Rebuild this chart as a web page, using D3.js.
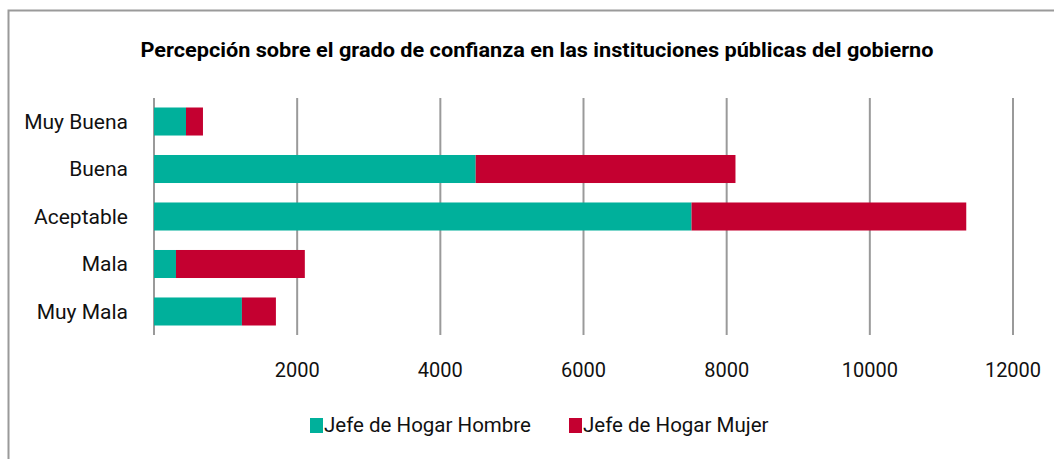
<!DOCTYPE html>
<html>
<head>
<meta charset="utf-8">
<script src="https://cdn.jsdelivr.net/npm/d3@7"></script>
<style>
  body { margin: 0; background: #fff; }
  text { font-family: "Roboto", "Liberation Sans Narrow", sans-serif; }
</style>
</head>
<body>
<div id="chart"></div>
<script>
// Data
var categories = ["Muy Buena", "Buena", "Aceptable", "Mala", "Muy Mala"];
var hombre = [447, 4494, 7509, 307, 1228];
var mujer = [237, 3629, 3838, 1800, 475];
var seriesNames = ["Jefe de Hogar Hombre", "Jefe de Hogar Mujer"];
var tickValues = [2000, 4000, 6000, 8000, 10000, 12000];

var colors = ["#00B09B", "#C40030"];

var width = 1054, height = 459;

var svg = d3.select("#chart")
  .append("svg")
  .attr("width", width)
  .attr("height", height);

// Outer frame
svg.append("rect")
  .attr("x", 8.5)
  .attr("y", 10.5)
  .attr("width", width)
  .attr("height", height)
  .attr("fill", "none")
  .attr("stroke", "#9a9a9a")
  .attr("stroke-width", 2);

// Title
svg.append("text")
  .attr("x", 537)
  .attr("y", 57)
  .attr("text-anchor", "middle")
  .attr("font-size", "21px")
  .attr("font-weight", "bold")
  .attr("textLength", 793)
  .attr("lengthAdjust", "spacingAndGlyphs")
  .text("Percepción sobre el grado de confianza en las instituciones públicas del gobierno");

var x = d3.scaleLinear()
  .domain([0, 12000])
  .range([154, 1013]);

var y = d3.scaleBand()
  .domain(categories)
  .range([98, 335])
  .paddingInner(0.41)
  .paddingOuter(0.2);

// Gridlines
svg.append("g")
  .selectAll("line")
  .data([0].concat(tickValues))
  .enter()
  .append("line")
  .attr("x1", function (d) { return x(d); })
  .attr("x2", function (d) { return x(d); })
  .attr("y1", 98)
  .attr("y2", 335)
  .attr("stroke", "#9a9a9a")
  .attr("stroke-width", 2);

// Stack data
var rows = categories.map(function (c, i) {
  return { cat: c, h: hombre[i], m: mujer[i] };
});
var stack = d3.stack().keys(["h", "m"]);
var layers = stack(rows);

svg.append("g")
  .selectAll("g")
  .data(layers)
  .enter()
  .append("g")
  .attr("fill", function (d, i) { return colors[i]; })
  .selectAll("rect")
  .data(function (d) { return d; })
  .enter()
  .append("rect")
  .attr("x", function (d) { return x(d[0]); })
  .attr("width", function (d) { return x(d[1]) - x(d[0]); })
  .attr("y", function (d) { return y(d.data.cat); })
  .attr("height", y.bandwidth());

// Category labels
svg.append("g")
  .selectAll("text")
  .data(categories)
  .enter()
  .append("text")
  .attr("x", 128)
  .attr("y", function (d) { return y(d) + y.bandwidth() / 2; })
  .attr("dy", "0.35em")
  .attr("text-anchor", "end")
  .attr("font-size", "21px")
  .attr("fill", "#111")
  .text(function (d) { return d; });

// X axis tick labels
svg.append("g")
  .selectAll("text")
  .data(tickValues)
  .enter()
  .append("text")
  .attr("x", function (d) { return x(d); })
  .attr("y", 370)
  .attr("dy", "0.35em")
  .attr("text-anchor", "middle")
  .attr("font-size", "20px")
  .attr("fill", "#111")
  .text(function (d) { return d; });

// Legend
var legendX = [310, 569];
var legend = svg.selectAll(".legend")
  .data(seriesNames)
  .enter()
  .append("g")
  .attr("class", "legend")
  .attr("transform", function (d, i) { return "translate(" + legendX[i] + ",425)"; });

legend.append("rect")
  .attr("x", 0)
  .attr("y", -7)
  .attr("width", 13)
  .attr("height", 15)
  .attr("fill", function (d, i) { return colors[i]; });

legend.append("text")
  .attr("x", 14)
  .attr("y", 0)
  .attr("dy", "0.35em")
  .attr("font-size", "20.5px")
  .attr("fill", "#111")
  .text(function (d) { return d; });
</script>
</body>
</html>
